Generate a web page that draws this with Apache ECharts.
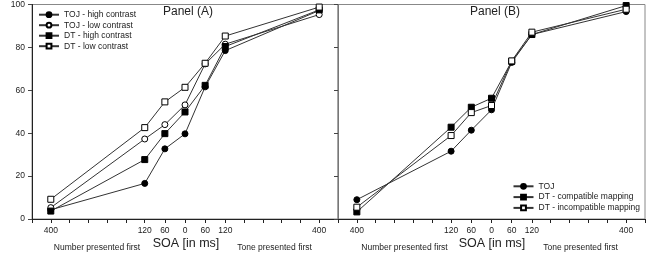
<!DOCTYPE html>
<html><head><meta charset="utf-8">
<script src="https://cdn.jsdelivr.net/npm/echarts@6/dist/echarts.min.js"></script>
<style>html,body{margin:0;padding:0;background:#fff}#c{width:648px;height:255px}</style>
</head><body><div id="c"></div>
<script>
const soa = [-400, -120, -60, 0, 60, 120, 400];
const xLabelValues = [-400, -120, -60, 0, 60, 120, 400];
const xTickValues = [-456, -400, -344, -288, -232, -176, -120, -60, 0, 60, 120, 176, 232, 288, 344, 400, 456];
const namesA = ['TOJ - high contrast', 'TOJ - low contrast', 'DT - high contrast', 'DT - low contrast'];
const namesB = ['TOJ', 'DT - compatible mapping', 'DT - incompatible mapping'];
const tojHighA = [4.3, 16.6, 32.7, 39.7, 61.6, 78.5, 97.2];
const tojLowA = [5.3, 37.3, 44.0, 53.2, 72.3, 81.5, 95.3];
const dtHighA = [3.7, 27.7, 39.8, 49.9, 62.3, 80.4, 97.5];
const dtLowA = [9.2, 42.6, 54.6, 61.4, 72.6, 85.3, 98.8];
const tojB = [9.0, 31.6, 41.4, 50.9, 73.0, 86.0, 96.7];
const dtCompB = [3.3, 42.8, 52.1, 56.3, 73.5, 86.0, 99.5];
const dtIncompB = [5.5, 38.9, 49.6, 52.9, 73.7, 87.1, 97.8];

const FONT = "'Liberation Sans', Arial, sans-serif";
const chart = echarts.init(document.getElementById('c'));

function mk(name, vals, idx, symbol, filled) {
  return {
    type: 'line', name: name, xAxisIndex: idx, yAxisIndex: idx,
    data: soa.map((x, i) => [x, vals[i]]),
    symbol: symbol, symbolSize: 6, showSymbol: true,
    lineStyle: { color: '#333', width: 1 },
    itemStyle: { color: filled ? '#000' : '#fff', borderColor: '#000', borderWidth: 1 },
    emphasis: { disabled: true }, z: 3
  };
}

function xAx(idx) {
  return {
    type: 'value', gridIndex: idx, min: -456, max: 456,
    axisLine: { show: true, onZero: false, lineStyle: { color: '#222', width: 1 } },
    axisTick: { show: true, inside: false, length: 4, customValues: xTickValues, lineStyle: { color: '#222' } },
    axisLabel: { customValues: xLabelValues, formatter: v => String(Math.abs(v)), fontSize: 8.5, color: '#222', fontFamily: FONT, margin: 7 },
    splitLine: { show: false }
  };
}
function yAx(idx, labels) {
  return {
    type: 'value', gridIndex: idx, min: 0, max: 100, interval: 20,
    axisLine: { show: true, onZero: false, lineStyle: { color: idx === 0 ? '#222' : '#777', width: 1 } },
    axisTick: { show: true, inside: false, length: 4, lineStyle: { color: '#444' } },
    axisLabel: { show: labels, fontSize: 8.5, color: '#222', fontFamily: FONT, margin: 7 },
    splitLine: { show: false }
  };
}

const txt = (x, y, s, size) => ({
  type: 'text', x: x, y: y,
  style: { text: s, fontSize: size, fontFamily: FONT, fill: '#222', align: 'center', verticalAlign: 'middle' }
});

chart.setOption({
  animation: false,
  backgroundColor: '#fff',
  grid: [
    { left: 32, top: 4.5, width: 306, height: 214.5, show: true, borderColor: '#888', borderWidth: 1, containLabel: false },
    { left: 338, top: 4.5, width: 307, height: 214.5, show: true, borderColor: '#888', borderWidth: 1, containLabel: false }
  ],
  xAxis: [xAx(0), xAx(1)],
  yAxis: [yAx(0, true), yAx(1, false)],
  legend: [
    { data: namesA, orient: 'vertical', left: 38, top: 9.7, padding: 0, itemWidth: 20, itemHeight: 6, itemGap: 0.5,
      textStyle: { fontSize: 8.5, fontFamily: FONT, color: '#222', lineHeight: 10 }, selectedMode: false },
    { data: namesB, orient: 'vertical', left: 512.5, top: 181.3, padding: 0, itemWidth: 20, itemHeight: 6, itemGap: 0.8,
      textStyle: { fontSize: 8.5, fontFamily: FONT, color: '#222', lineHeight: 10 }, selectedMode: false }
  ],
  graphic: [
    txt(188, 12, 'Panel (A)', 12),
    txt(495, 12, 'Panel (B)', 12),
    txt(97, 248, 'Number presented first', 8.5),
    txt(186, 244, 'SOA [in ms]', 12.5),
    txt(274.5, 248, 'Tone presented first', 8.5),
    txt(404.5, 248, 'Number presented first', 8.5),
    txt(492, 244, 'SOA [in ms]', 12.5),
    txt(580.5, 248, 'Tone presented first', 8.5)
  ],
  series: [
    mk(namesA[0], tojHighA, 0, 'circle', true),
    mk(namesA[1], tojLowA, 0, 'circle', false),
    mk(namesA[2], dtHighA, 0, 'rect', true),
    mk(namesA[3], dtLowA, 0, 'rect', false),
    mk(namesB[0], tojB, 1, 'circle', true),
    mk(namesB[1], dtCompB, 1, 'rect', true),
    mk(namesB[2], dtIncompB, 1, 'rect', false)
  ]
});
</script></body></html>
